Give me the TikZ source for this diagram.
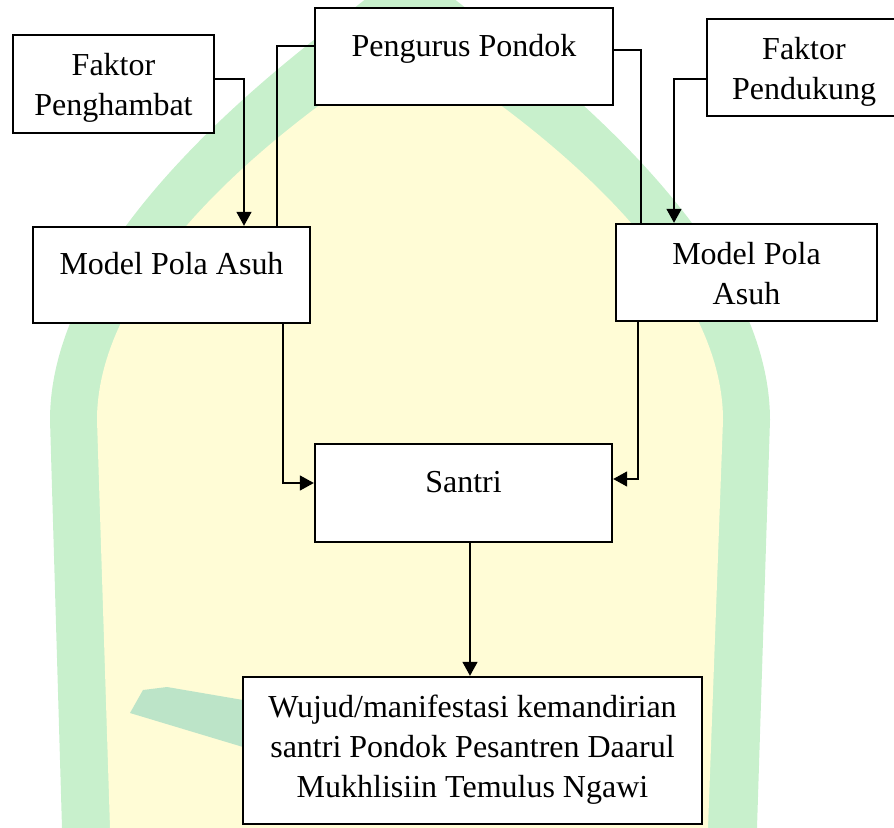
\documentclass[tikz,border=0pt]{standalone}
\usepackage{fontspec}
\setmainfont{Liberation Serif}
\usetikzlibrary{arrows.meta}
\definecolor{markgreen}{RGB}{200,240,204}
\definecolor{markyellow}{RGB}{255,252,214}
\definecolor{markteal}{RGB}{188,228,200}
\tikzset{
  box/.style={draw,line width=1.2pt,fill=white,inner sep=0pt,text height=11pt,text depth=11pt},
  twobox/.style={box,align=center,text height=32pt,text depth=0pt},
}
\begin{document}
\begin{tikzpicture}[x=0.5pt,y=-0.5pt,>={Triangle[length=7pt,width=7.5pt]},line width=0.8pt,font=\fontsize{16}{20}\selectfont]
    \useasboundingbox (0,0) rectangle (894,828);
    % watermark
    \fill[markgreen] (62,828) -- (50,420) .. controls (50,300) and (150,170) .. (310,43) -- (410,-36) -- (510,43) .. controls (670,170) and (770,300) .. (770,420) -- (757,828) -- cycle;
    \fill[markyellow] (110,828) -- (97,420) .. controls (97,320) and (180,210) .. (317,107) -- (410,37) -- (503,107) .. controls (640,210) and (723,320) .. (723,420) -- (708,828) -- cycle;
    \fill[markteal] (130,713) -- (143,690) -- (167,687) -- (243,700) -- (243,747) -- cycle;
    % boxes
    \path (464,56.5) node[box,minimum width=149pt,minimum height=48.5pt](pengurus){Pengurus Pondok};
    \path (113.5,84) node[twobox,minimum width=100.5pt,minimum height=49pt](penghambat){Faktor\\Penghambat};
    \path (804,67.5) node[twobox,minimum width=97pt,minimum height=48.5pt](pendukung){Faktor\\Pendukung};
    \path (171.5,275) node[box,minimum width=138.5pt,minimum height=48pt](modelL){Model Pola Asuh};
    \path (746.5,272.5) node[twobox,minimum width=130.5pt,minimum height=48.5pt](modelR){Model Pola\\Asuh};
    \path (463.5,493) node[box,minimum width=148.5pt,minimum height=49pt](santri){Santri};
    \path (472.5,750.5) node[twobox,text height=46.5pt,minimum width=229.5pt,minimum height=73.5pt](wujud){Wujud/manifestasi kemandirian\\santri Pondok Pesantren Daarul\\Mukhlisiin Temulus Ngawi};
    % connectors
    \draw[->] ([yshift=2.5pt]penghambat.east) -| ([xshift=36.25pt]modelL.north);
    \draw ([yshift=5.25pt]pengurus.west) -| ([xshift=52.75pt]modelL.north);
    \draw ([yshift=3.25pt]pengurus.east) -| ([xshift=-52.75pt]modelR.north);
    \draw[->] ([yshift=-5.75pt]pendukung.west) -| ([xshift=-36.25pt]modelR.north);
    \draw[->] ([xshift=55.75pt]modelL.south) |- ([yshift=5pt]santri.west);
    \draw[->] ([xshift=-54.25pt]modelR.south) |- ([yshift=7pt]santri.east);
    \draw[->] ([xshift=3.25pt]santri.south) -- ([xshift=-1.25pt]wujud.north);
\end{tikzpicture}
\end{document}
